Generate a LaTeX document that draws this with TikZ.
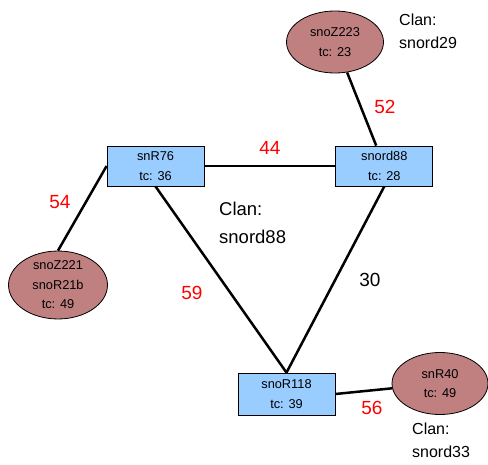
\documentclass[tikz,border=0pt]{standalone}
\usepackage{fontspec}
\setmainfont{Liberation Sans}
\usepackage{tikz}
\usetikzlibrary{shapes.geometric, positioning}
\definecolor{colFamily}{RGB}{153,204,255}
\definecolor{colSingle}{RGB}{192,128,128}
\definecolor{colScore}{RGB}{255,0,0}

\begin{document}
\begin{tikzpicture}[
  x=1pt, y=-1pt,
  famblock/.style={draw, line width=0.8pt, fill=colFamily, minimum width=97pt, minimum height=40pt,
                   inner sep=0pt, align=center, font=\fontsize{12.8}{19.5}\selectfont},
  singleton/.style={draw, ellipse, line width=0.8pt, fill=colSingle, minimum width=#1, minimum height=62pt,
                    inner sep=0pt, align=center, font=\fontsize{12.8}{19.5}\selectfont},
  singleton/.default=97pt,
  link/.style={line width=2.5pt},
  score/.style={font=\fontsize{19}{20}\selectfont, text=colScore, inner sep=0pt},
  clan/.style={align=left, inner sep=0pt, anchor=north west, #1},
]
\useasboundingbox (0,0) rectangle (488,465);

% ─── FAMILIES ─────────────────────────────────────────────────────────────────
\node[famblock] (snR76)   at (155.5,166) {snR76\\tc: 36};
\node[famblock, right=131pt of snR76] (snord88) {snord88\\tc: 28};
\node[famblock, minimum height=42pt] (snoR118) at (286.5,394) {snoR118\\tc: 39};

% ─── SINGLETONS ───────────────────────────────────────────────────────────────
\node[singleton] (snoZ223) at (335,42) {snoZ223\\tc: 23};
\node[singleton=99pt, minimum height=64pt] (snoZ221) at (58,285) {snoZ221\\snoR21b\\tc: 49};
\node[singleton=96pt] (snR40)   at (440,383.5) {snR40\\tc: 49};

% ─── LINKS ────────────────────────────────────────────────────────────────────
\draw[link] (snR76)        -- node[score, above=10pt, pos=0.5]{44} (snord88);
\draw[link] (snoZ223)      -- (snord88);
\draw[link] (snR76.west)   -- (snoZ221.north);
\draw[link] (snR76.south)  -- (snoR118.north);
\draw[link] (snord88.south) -- (snoR118.north);
\draw[link] (snoR118.east) -- (snR40);

\node[score] (s52) at (385,107) {52};
\node[score] (s54) at (60,202)  {54};
\node[score] (s59) at (192,293) {59};
\node[score, text=black] (s30) at (370,280) {30};
\node[score] (s56) at (372,408) {56};

% ─── CLAN NAMES ───────────────────────────────────────────────────────────────
\node[clan={font=\fontsize{16}{23}\selectfont}] (clan29) at (399,14)  {Clan:\\snord29};
\node[clan={font=\fontsize{18.5}{28}\selectfont}] (clan88) at (219,202) {Clan:\\snord88};
\node[clan={font=\fontsize{16}{23}\selectfont}] (clan33) at (412,423) {Clan:\\snord33};

\end{tikzpicture}
\end{document}
